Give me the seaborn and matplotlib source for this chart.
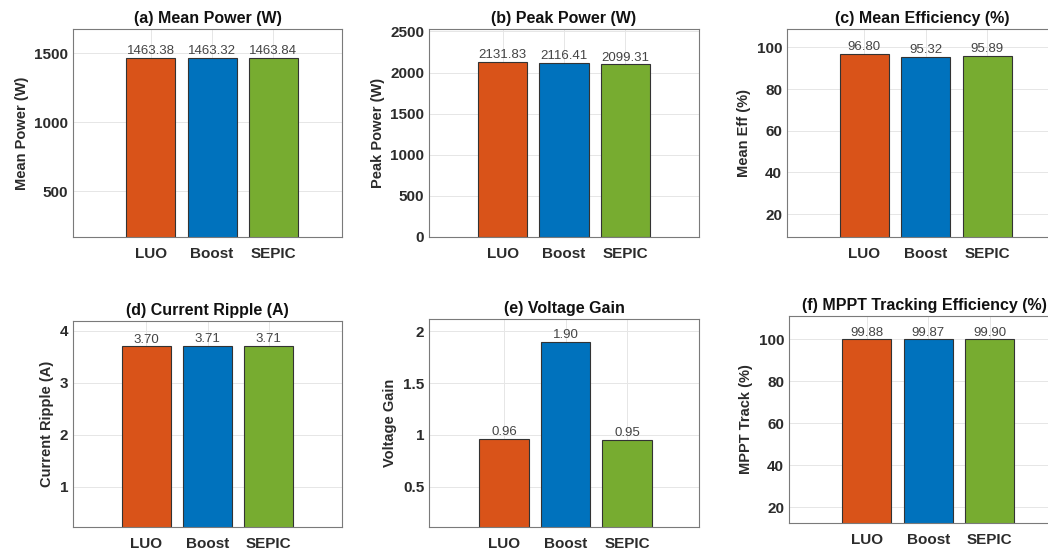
import matplotlib
matplotlib.use("Agg")
import matplotlib.pyplot as plt
import seaborn as sns
import pandas as pd

# ---- data ----
converters = ["LUO", "Boost", "SEPIC"]
mean_power = [1463.38, 1463.32, 1463.84]
peak_power = [2131.83, 2116.41, 2099.31]
mean_eff = [96.80, 95.32, 95.89]
current_ripple = [3.70, 3.71, 3.71]
voltage_gain = [0.96, 1.90, 0.95]
mppt_track = [99.88, 99.87, 99.90]

titles = ["(a) Mean Power (W)", "(b) Peak Power (W)", "(c) Mean Efficiency (%)",
          "(d) Current Ripple (A)", "(e) Voltage Gain", "(f) MPPT Tracking Efficiency (%)"]
ylabels = ["Mean Power (W)", "Peak Power (W)", "Mean Eff (%)",
           "Current Ripple (A)", "Voltage Gain", "MPPT Track (%)"]
yticks_list = [[500, 1000, 1500], [0, 500, 1000, 1500, 2000, 2500], [20, 40, 60, 80, 100],
               [1, 2, 3, 4], [0.5, 1, 1.5, 2], [20, 40, 60, 80, 100]]
yticklabels_list = [["500", "1000", "1500"], ["0", "500", "1000", "1500", "2000", "2500"],
                    ["20", "40", "60", "80", "100"], ["1", "2", "3", "4"],
                    ["0.5", "1", "1.5", "2"], ["20", "40", "60", "80", "100"]]
ylims = [(167, 1674), (0, 2530), (9, 108.8), (0.23, 4.19), (0.11, 2.12), (12.6, 111)]
series = [mean_power, peak_power, mean_eff, current_ripple, voltage_gain, mppt_track]

colors = ["#D95319", "#0072BD", "#77AC30"]

sns.set_theme(style="white")
plt.rcParams['font.family'] = ['Liberation Sans', 'DejaVu Sans']

W, H = 1048, 552
fig = plt.figure(figsize=(W / 100, H / 100), dpi=100)
fig.patch.set_facecolor("white")

# axes boxes in pixels: left, top, right, bottom
boxes = [(73, 29, 342, 237), (429, 29, 699, 237), (787, 29, 1057, 237),
         (73, 321, 342, 527), (429, 319, 699, 527), (789, 316, 1059, 523)]
xlims = [(-1.27, 3.12), (-1.2, 3.2), (-1.26, 3.14),
         (-1.2, 3.2), (-1.22, 3.17), (-1.27, 3.13)]

for i, (l, t, r, b) in enumerate(boxes):
    ax = fig.add_axes([l / W, 1 - b / H, (r - l) / W, (b - t) / H])
    df = pd.DataFrame({"conv": converters, "val": series[i]})
    sns.barplot(data=df, x="conv", y="val", hue="conv", palette=colors,
                order=converters, hue_order=converters, legend=False,
                width=0.8, edgecolor="#333333", linewidth=0.8, ax=ax, saturation=1)
    ax.set_xlim(*xlims[i])
    ax.set_ylim(*ylims[i])
    ax.set_yticks(yticks_list[i])
    ax.set_yticklabels(yticklabels_list[i])
    ax.set_xticks(range(len(converters)))
    ax.set_xticklabels(converters)
    ax.grid(True, color="#e6e6e6", linewidth=0.7)
    ax.set_axisbelow(True)
    for s in ax.spines.values():
        s.set_color("#7a7a7a")
        s.set_linewidth(0.8)
        s.set_visible(True)
    ax.tick_params(axis="both", direction="in", length=3, color="#7a7a7a",
                   labelsize=11, labelcolor="#2b2b2b")
    ax.tick_params(axis="x", pad=7)
    for lab in ax.get_xticklabels() + ax.get_yticklabels():
        lab.set_fontweight("bold")
    ax.set_xlabel("")
    ax.set_ylabel(ylabels[i], fontsize=10.5, fontweight="bold", color="#2b2b2b")
    ax.set_title(titles[i], fontsize=11.5, fontweight="bold", color="#111111", pad=4)
    for j, v in enumerate(series[i]):
        ax.annotate(f"{v:.2f}", (j, v), xytext=(0, 0.5), textcoords="offset points",
                    ha="center", va="bottom", fontsize=9.5, color="#444444")

fig.savefig("out.png", dpi=100, facecolor="white")
